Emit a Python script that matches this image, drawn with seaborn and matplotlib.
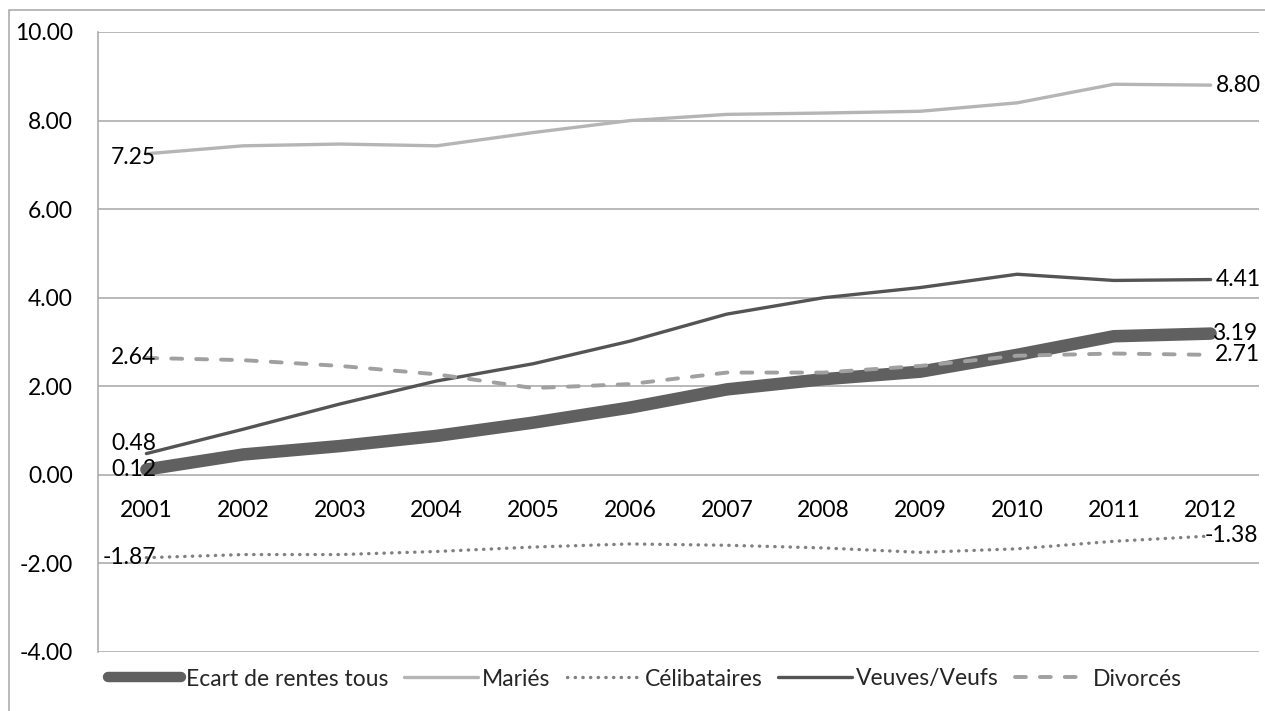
import matplotlib
matplotlib.use("Agg")
import matplotlib.pyplot as plt
import seaborn as sns
import numpy as np
import pandas as pd
from matplotlib.lines import Line2D
from matplotlib.patches import Rectangle
import matplotlib.transforms as mtransforms

# Years on the category axis
years = ["2001", "2002", "2003", "2004", "2005", "2006",
         "2007", "2008", "2009", "2010", "2011", "2012"]

# Gap in pensions, by marital status
ecart_tous = [0.12, 0.46, 0.65, 0.88, 1.18, 1.52, 1.93, 2.16, 2.33, 2.71, 3.13, 3.19]
maries = [7.25, 7.43, 7.47, 7.43, 7.73, 8.00, 8.14, 8.17, 8.21, 8.40, 8.82, 8.80]
celibataires = [-1.87, -1.80, -1.80, -1.73, -1.63, -1.56, -1.59, -1.65, -1.75, -1.67, -1.50, -1.38]
veuves_veufs = [0.48, 1.03, 1.60, 2.12, 2.51, 3.02, 3.63, 4.00, 4.23, 4.53, 4.39, 4.41]
divorces = [2.64, 2.59, 2.46, 2.27, 1.96, 2.05, 2.31, 2.31, 2.46, 2.69, 2.74, 2.71]

series_names = ["Ecart de rentes tous", "Mariés", "Célibataires", "Veuves/Veufs", "Divorcés"]
series_values = [ecart_tous, maries, celibataires, veuves_veufs, divorces]

sns.set_theme(style="white")
plt.rcParams["font.family"] = ["Lato", "DejaVu Sans"]
FS = 16.5

fig = plt.figure(figsize=(12.65, 7.11), dpi=100)
ax = fig.add_axes([98 / 1265, 1 - 652 / 711, (1259 - 98) / 1265, (652 - 32) / 711])

styles = {
    "Ecart de rentes tous": dict(color="#606060", lw=9.0, ls="-"),
    "Mariés": dict(color="#b5b5b5", lw=2.4, ls="-"),
    "Célibataires": dict(color="#808080", lw=2.4, ls=(0, (0.1, 2.2))),
    "Veuves/Veufs": dict(color="#545454", lw=2.4, ls="-"),
    "Divorcés": dict(color="#a0a0a0", lw=2.8, ls=(0, (2.8, 3.6))),
}

x = np.arange(len(years))
draw_order = ["Mariés", "Célibataires", "Divorcés", "Veuves/Veufs", "Ecart de rentes tous"]
zorders = {"Mariés": 3, "Célibataires": 3, "Divorcés": 4, "Veuves/Veufs": 3, "Ecart de rentes tous": 2}
for name in draw_order:
    vals = series_values[series_names.index(name)]
    df = pd.DataFrame({"x": x, "y": vals})
    st = styles[name]
    sns.lineplot(data=df, x="x", y="y", ax=ax, color=st["color"], linewidth=st["lw"],
                 linestyle=st["ls"], zorder=zorders[name], legend=False)
    line = ax.lines[-1]
    line.set_solid_capstyle("round")
    line.set_dash_capstyle("round")
    line.set_solid_joinstyle("round")

# Axes ranges and grid
ax.set_xlim(-0.5, len(years) - 0.5)
ax.set_ylim(-4, 10)
ax.set_yticks(np.arange(-4, 10.01, 2))
ax.set_yticklabels([f"{v:.2f}" for v in np.arange(-4, 10.01, 2)])
ax.set_xticks(x)
ax.set_xticklabels(years)
ax.set_xlabel("")
ax.set_ylabel("")
ax.grid(axis="y", color="#a6a6a6", linewidth=1.1)
ax.grid(axis="x", visible=False)
for side in ["top", "right"]:
    ax.spines[side].set_visible(False)
ax.spines["left"].set_color("#a6a6a6")
ax.spines["left"].set_linewidth(1.1)
ax.spines["bottom"].set_position(("data", 0))
ax.spines["bottom"].set_visible(False)
ax.tick_params(axis="y", length=0, pad=18, labelsize=FS, labelcolor="black")
ax.tick_params(axis="x", length=0, pad=18, labelsize=FS, labelcolor="black")

# Value labels at both ends of every series
left_offsets = {"Ecart de rentes tous": 0, "Mariés": -4, "Célibataires": 0,
                "Veuves/Veufs": 10, "Divorcés": 0}
right_offsets = {"Ecart de rentes tous": 1, "Mariés": 5, "Célibataires": -6,
                 "Veuves/Veufs": 5, "Divorcés": 4}
for name, vals in zip(series_names, series_values):
    tr_l = mtransforms.offset_copy(ax.transData, fig=fig, x=10, y=left_offsets[name], units="dots")
    ax.text(x[0], vals[0], f"{vals[0]:.2f}", ha="right", va="center", fontsize=FS,
            color="black", transform=tr_l, zorder=6)
    tr_r = mtransforms.offset_copy(ax.transData, fig=fig, x=right_offsets[name], y=0, units="dots")
    ax.text(x[-1], vals[-1], f"{vals[-1]:.2f}", ha="left", va="center", fontsize=FS,
            color="black", transform=tr_r, zorder=6)

# Legend along the bottom
handles = []
for name in series_names:
    st = styles[name]
    lw = 7.5 if name == "Ecart de rentes tous" else st["lw"]
    h = Line2D([], [], color=st["color"], lw=lw, ls=st["ls"],
               solid_capstyle="round", dash_capstyle="round")
    handles.append(h)
fig.legend(handles, series_names, loc="center", bbox_to_anchor=(645 / 1265, 1 - 679 / 711),
           ncol=5, frameon=False, fontsize=FS, handlelength=3.2, handletextpad=0.2,
           columnspacing=0.7, borderpad=0, borderaxespad=0)

# Chart-area border
fig.patches.append(Rectangle((9 / 1265, -0.1), 1.2, 1.1 - 10 / 711, transform=fig.transFigure,
                             fill=False, edgecolor="#a6a6a6", linewidth=1.1))

fig.savefig("out.png", dpi=100, facecolor="white")
